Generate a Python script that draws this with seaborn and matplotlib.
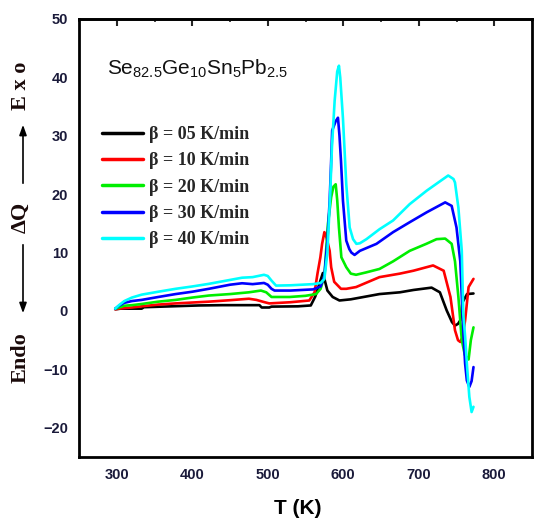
import matplotlib
matplotlib.use("Agg")
import matplotlib.pyplot as plt
from matplotlib.ticker import MultipleLocator
import seaborn as sns
import pandas as pd

# DSC traces of Se82.5Ge10Sn5Pb2.5 at five heating rates (T in K, heat flow in a.u.)
t_05 = [298, 305, 333, 336, 409, 440, 489, 492, 502, 505, 540, 557, 563, 568, 573, 576, 579,
        586, 595, 610, 648, 675, 693, 717, 728, 737, 744, 748, 752, 755, 758, 764, 772.5]
q_05 = [0.3, 0.4, 0.4, 0.65, 0.95, 1.0, 1.0, 0.6, 0.6, 0.75, 0.8, 0.95, 2.5, 4.5, 6.5, 5.0, 3.5,
        2.4, 1.8, 2.0, 2.9, 3.2, 3.6, 4.0, 3.2, 0.1, -1.9, -2.5, -2.2, -1.6, 1.5, 2.9, 3.0]

t_10 = [298, 303, 310, 320, 333, 355, 378, 400, 422, 450, 475, 485, 496, 502, 530, 555, 562,
        566, 569.7, 572, 575, 578, 582, 584, 588, 591, 597, 604, 617, 648, 675, 693, 719, 733,
        742, 748, 752, 755, 758, 761.4, 766, 772.5]
q_10 = [0.3, 0.4, 0.5, 0.6, 0.8, 1.1, 1.3, 1.45, 1.6, 1.85, 2.1, 1.9, 1.5, 1.3, 1.5, 1.8, 3.2,
        6.5, 9.2, 11.5, 13.5, 12.5, 10.3, 7.5, 5.0, 4.6, 3.8, 3.8, 4.1, 5.8, 6.4, 6.9, 7.8, 6.9,
        2.4, -3.3, -5.0, -5.3, -4.5, -1.6, 4.1, 5.5]

t_20 = [298, 303, 310, 320, 333, 355, 378, 400, 422, 450, 475, 491, 498, 505, 529, 550, 564,
        570, 575, 579.7, 584, 587, 590, 592, 594.3, 597.5, 604, 610, 617, 630, 648, 666, 688,
        710, 723.6, 735, 743.6, 748, 752.5, 757, 761, 764, 766, 769, 772.5]
q_20 = [0.4, 0.6, 0.9, 1.0, 1.2, 1.6, 1.9, 2.3, 2.65, 2.9, 3.2, 3.5, 3.2, 2.4, 2.4, 2.6, 2.9,
        3.8, 6.0, 14.9, 19.5, 21.3, 21.7, 19.0, 14.3, 9.2, 7.5, 6.4, 6.2, 6.6, 7.2, 8.5, 10.3,
        11.5, 12.3, 12.4, 11.5, 8.5, 2.4, -5.0, -7.5, -8.0, -8.3, -5.0, -2.8]

t_30 = [298, 303, 310, 320, 333, 355, 378, 400, 422, 450, 466, 480, 495, 500, 505, 509, 530,
        560, 570, 575, 579, 582, 584, 585.3, 590, 593, 595, 597, 599.6, 604, 608, 610.8, 615,
        622, 644, 666, 688, 710.5, 735, 743.6, 750, 755, 757, 759, 761.4, 763.7, 767, 770, 772.5]
q_30 = [0.4, 0.9, 1.4, 1.7, 1.9, 2.4, 2.9, 3.3, 3.8, 4.5, 4.75, 4.6, 4.8, 4.5, 3.8, 3.5, 3.5,
        3.7, 4.2, 6.0, 12.0, 18.9, 25.7, 30.9, 32.5, 33.1, 30.0, 25.7, 18.9, 12.05, 10.6, 10.0,
        9.6, 10.3, 11.5, 13.5, 15.2, 16.9, 18.6, 18.0, 14.3, 8.5, 2.4, -3.3, -9.0, -11.9, -13.0,
        -12.0, -9.6]

t_40 = [298, 303, 310, 320, 333, 355, 378, 400, 422, 445, 466, 480, 495, 500, 505, 511, 530,
        560, 570, 575, 579, 582.7, 585, 588.6, 592, 594.3, 596, 599.6, 604, 608.5, 613, 617.4,
        622, 630.7, 648, 666, 688, 710.5, 728, 739, 746, 748, 752.5, 757, 759, 761.5, 763.7,
        767, 770, 772.5]
q_40 = [0.4, 1.0, 1.7, 2.3, 2.8, 3.3, 3.8, 4.2, 4.65, 5.2, 5.7, 5.8, 6.2, 6.0, 5.2, 4.35, 4.4,
        4.6, 4.8, 5.5, 10.0, 20.0, 28.0, 36.0, 41.0, 42.0, 40.0, 33.0, 21.7, 14.3, 12.3, 11.5,
        11.6, 12.3, 14.0, 15.5, 18.3, 20.6, 22.2, 23.2, 22.6, 22.0, 17.7, 10.3, -0.5, -4.5, -9.0,
        -14.7, -17.3, -16.4]

rate_labels = ["\u03b2 = 05 K/min", "\u03b2 = 10 K/min", "\u03b2 = 20 K/min",
               "\u03b2 = 30 K/min", "\u03b2 = 40 K/min"]
rate_colors = ["#000000", "#ff0000", "#00ee00", "#0000ff", "#00ffff"]
temps = [t_05, t_10, t_20, t_30, t_40]
flows = [q_05, q_10, q_20, q_30, q_40]

frames = []
for lab, t, q in zip(rate_labels, temps, flows):
    frames.append(pd.DataFrame({"T": t, "Q": q, "rate": lab}))
df = pd.concat(frames, ignore_index=True)

sns.set_theme(style="white")
plt.rcParams["font.family"] = ["Liberation Sans", "DejaVu Sans"]
plt.rcParams["mathtext.default"] = "regular"

fig = plt.figure(figsize=(5.34, 5.20), dpi=100)
ax = fig.add_axes([79 / 534, 1 - 457 / 520, 453 / 534, 438 / 520])

sns.lineplot(data=df, x="T", y="Q", hue="rate", hue_order=rate_labels,
             palette=rate_colors, sort=False, estimator=None, units="rate",
             linewidth=1.9, ax=ax, legend=True)

ax.set_xlim(250, 850)
ax.set_ylim(-25, 50)
ax.xaxis.set_minor_locator(MultipleLocator(50))
ax.yaxis.set_minor_locator(MultipleLocator(5))
ax.set_xticks([300, 400, 500, 600, 700, 800])
ax.set_yticks([-20, -10, 0, 10, 20, 30, 40, 50])

for side in ["left", "right", "top", "bottom"]:
    ax.spines[side].set_visible(True)
    ax.spines[side].set_color("black")
    ax.spines[side].set_linewidth(2.0)

tick_col = "#1a1a3a"
ax.tick_params(axis="both", which="major", direction="out", length=5, width=1.5,
               colors="black", labelcolor=tick_col, labelsize=10.5, pad=3)
ax.tick_params(axis="both", which="minor", direction="out", length=2.5, width=1.2,
               colors="black")
for lab in ax.get_xticklabels() + ax.get_yticklabels():
    lab.set_fontweight("bold")

# inward ticks along the top edge
top = ax.secondary_xaxis("top")
top.xaxis.set_major_locator(MultipleLocator(100))
top.xaxis.set_minor_locator(MultipleLocator(50))
top.tick_params(which="major", direction="in", length=5, width=1.5, labeltop=False)
top.tick_params(which="minor", direction="in", length=2.5, width=1.2)
top.spines["top"].set_linewidth(2.0)

ax.set_xlabel("T (K)", fontsize=15, fontweight="bold", color="black")
ax.xaxis.set_label_coords(0.482, -0.095)
ax.set_ylabel("")

ax.text(0.061, 0.872, r"Se$_{82.5}$Ge$_{10}$Sn$_{5}$Pb$_{2.5}$", transform=ax.transAxes,
        fontsize=15, ha="left", va="baseline", color="#111111")

leg = ax.legend(loc="upper left", bbox_to_anchor=(0.05, 0.756), frameon=False,
                prop={"family": "Liberation Serif", "weight": "bold", "size": 13},
                handlelength=2.3, handletextpad=0.3, labelspacing=0.52,
                borderaxespad=0, borderpad=0)
for line in leg.get_lines():
    line.set_linewidth(2.5)

# rotated Endo / dQ / Exo label with arrows
serif = {"family": ["Liberation Serif", "DejaVu Serif"], "weight": "bold", "size": 16}
fig.text(21 / 534, 1 - 86 / 520, "E x o", rotation=90, ha="center", va="center",
         fontdict=serif, color="#1a0a0a")
fig.text(21 / 534, 1 - 217 / 520, "\u0394Q", rotation=90, ha="center", va="center",
         fontdict=serif, color="#1a0a0a")
fig.text(21 / 534, 1 - 358 / 520, "Endo", rotation=90, ha="center", va="center",
         fontdict=serif, color="#1a0a0a")
arrow_kw = dict(arrowstyle="-|>,head_length=0.5,head_width=0.18", color="black", lw=1.2)
fig.add_artist(matplotlib.patches.FancyArrowPatch(
    (23 / 534, 1 - 186 / 520), (23 / 534, 1 - 122 / 520), transform=fig.transFigure,
    mutation_scale=12, **arrow_kw))
fig.add_artist(matplotlib.patches.FancyArrowPatch(
    (23 / 534, 1 - 242 / 520), (23 / 534, 1 - 316 / 520), transform=fig.transFigure,
    mutation_scale=12, **arrow_kw))

fig.savefig("out.png", dpi=100, facecolor="white")
